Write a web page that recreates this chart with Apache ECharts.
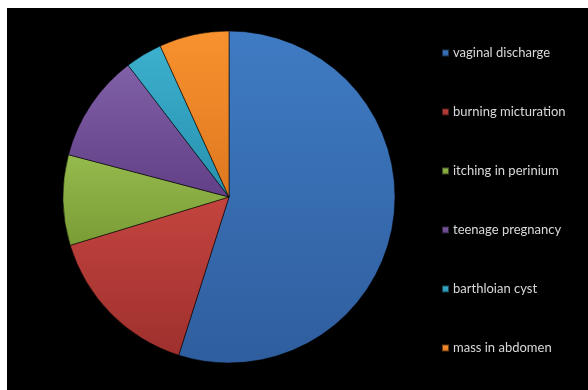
<!DOCTYPE html>
<html><head><meta charset="utf-8">
<script src="https://cdn.jsdelivr.net/npm/echarts@6/dist/echarts.min.js"></script>
<style>
html,body{margin:0;padding:0;background:#fff;width:588px;height:390px;overflow:hidden}
#c{position:absolute;left:7px;top:8px;width:581px;height:382px;background:#000}
</style></head><body>
<div id="c"></div>
<script>
const categories = ["vaginal discharge","burning micturation","itching in perinium","teenage pregnancy","barthloian cyst","mass in abdomen"];
const values = [54.9, 15.4, 8.8, 10.5, 3.6, 6.8];
const colors = [["#3F7BC3","#2F5E9E"],["#C4443F","#9E302D"],["#95BA4C","#7A9C36"],["#8060A8","#623F86"],["#3CB0CE","#2690AE"],["#F8922E","#DE7820"]];

const chart = echarts.init(document.getElementById('c'));
chart.setOption({
  backgroundColor: '#000',
  animation: false,
  legend: {
    orient: 'vertical',
    left: 429,
    top: 33,
    padding: 5,
    itemWidth: 7,
    itemHeight: 7,
    itemGap: 45,
    icon: 'rect',
    textStyle: {color: '#d9d9d9', fontSize: 13, lineHeight: 14, fontFamily: 'Lato', padding:[0,0,0,-1]},
    data: categories
  },
  series: [{
    type: 'pie',
    center: [222, 189],
    radius: 166,
    startAngle: 90,
    clockwise: true,
    label: {show: false},
    labelLine: {show: false},
    itemStyle: {borderColor: 'rgba(0,0,0,0.55)', borderWidth: 1},
    data: categories.map((n, i) => ({
      name: n, value: values[i],
      itemStyle: {color: new echarts.graphic.LinearGradient(0,0,0,1,[{offset:0,color:colors[i][0]},{offset:1,color:colors[i][1]}])}
    }))
  }]
});
</script></body></html>
